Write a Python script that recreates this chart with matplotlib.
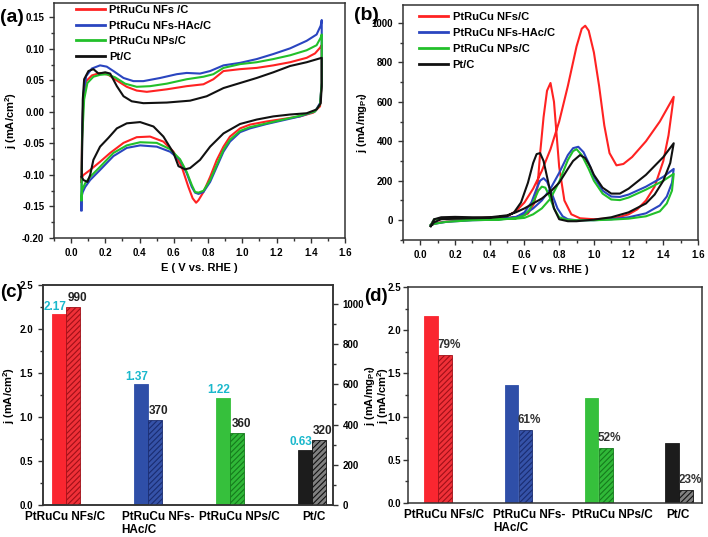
import numpy as np
import matplotlib.pyplot as plt
from matplotlib.ticker import MultipleLocator, FormatStrFormatter

plt.rcParams['font.family'] = ['Liberation Sans', 'DejaVu Sans']
plt.rcParams['font.weight'] = 'bold'
plt.rcParams['axes.labelweight'] = 'bold'
plt.rcParams['mathtext.fontset'] = 'custom'
plt.rcParams['mathtext.bf'] = 'Liberation Sans:bold'
plt.rcParams['mathtext.rm'] = 'Liberation Sans:bold'
plt.rcParams['mathtext.default'] = 'bf'
plt.rcParams['hatch.linewidth'] = 0.8

RED = '#ff2222'
BLUE = '#2a45c0'
GREEN = '#22c02a'
BLACK = '#111111'

# ---- (a) CV in H2SO4: closed loops (anodic then cathodic) ----
e_nfs_a = [0.060, 0.064, 0.072, 0.088, 0.121, 0.169, 0.218, 0.267, 0.325, 0.383, 0.442, 0.559,
           0.675, 0.773, 0.831, 0.890, 0.987, 1.084, 1.181, 1.279, 1.376, 1.425, 1.454, 1.464,
           1.464, 1.454, 1.415, 1.337, 1.240, 1.143, 1.045, 0.987, 0.928, 0.890, 0.851, 0.812,
           0.773, 0.744, 0.730, 0.710, 0.685, 0.646, 0.598, 0.539, 0.461, 0.383, 0.306, 0.228,
           0.169, 0.111, 0.072, 0.060, 0.060]
j_nfs_a = [-0.111, -0.034, 0.025, 0.049, 0.058, 0.062, 0.059, 0.050, 0.040, 0.034, 0.032, 0.036,
           0.041, 0.044, 0.052, 0.065, 0.068, 0.070, 0.074, 0.079, 0.086, 0.093, 0.102, 0.106,
           0.046, 0.009, -0.001, -0.007, -0.011, -0.015, -0.020, -0.026, -0.039, -0.055, -0.076, -0.103,
           -0.127, -0.140, -0.144, -0.137, -0.119, -0.087, -0.063, -0.047, -0.039, -0.040, -0.049, -0.065,
           -0.079, -0.092, -0.100, -0.105, -0.111]

e_hac_a = [0.060, 0.064, 0.072, 0.088, 0.121, 0.169, 0.208, 0.247, 0.306, 0.364, 0.422, 0.520,
           0.617, 0.675, 0.753, 0.812, 0.890, 0.987, 1.084, 1.181, 1.279, 1.376, 1.434, 1.458, 1.464,
           1.464, 1.454, 1.425, 1.337, 1.240, 1.143, 1.045, 0.987, 0.928, 0.890, 0.851, 0.812,
           0.773, 0.744, 0.724, 0.705, 0.675, 0.636, 0.578, 0.500, 0.403, 0.325, 0.247, 0.169,
           0.111, 0.082, 0.068, 0.060, 0.060]
j_hac_a = [-0.156, -0.034, 0.030, 0.057, 0.069, 0.074, 0.072, 0.065, 0.054, 0.049, 0.049, 0.054,
           0.060, 0.062, 0.061, 0.065, 0.074, 0.078, 0.084, 0.092, 0.101, 0.113, 0.123, 0.137, 0.146,
           0.046, 0.014, 0.001, -0.007, -0.013, -0.019, -0.026, -0.032, -0.047, -0.063, -0.087, -0.111,
           -0.127, -0.130, -0.128, -0.119, -0.097, -0.076, -0.063, -0.055, -0.053, -0.057, -0.070, -0.092,
           -0.108, -0.119, -0.127, -0.135, -0.156]

e_nps_a = [0.060, 0.064, 0.076, 0.095, 0.130, 0.169, 0.208, 0.257, 0.315, 0.383, 0.461, 0.559,
           0.675, 0.773, 0.831, 0.890, 0.987, 1.084, 1.181, 1.279, 1.376, 1.434, 1.458, 1.464,
           1.464, 1.454, 1.425, 1.337, 1.240, 1.143, 1.045, 0.987, 0.928, 0.890, 0.851, 0.812,
           0.773, 0.744, 0.724, 0.705, 0.675, 0.636, 0.578, 0.500, 0.403, 0.325, 0.247, 0.169,
           0.111, 0.082, 0.064, 0.060]
j_nps_a = [-0.140, -0.044, 0.020, 0.046, 0.056, 0.059, 0.060, 0.055, 0.045, 0.040, 0.041, 0.045,
           0.052, 0.056, 0.060, 0.070, 0.076, 0.079, 0.084, 0.090, 0.098, 0.106, 0.118, 0.123,
           0.046, 0.012, 0.001, -0.006, -0.012, -0.018, -0.024, -0.030, -0.044, -0.060, -0.084, -0.108,
           -0.125, -0.128, -0.127, -0.116, -0.095, -0.075, -0.059, -0.049, -0.048, -0.053, -0.065, -0.087,
           -0.103, -0.113, -0.124, -0.140]

e_pt_a = [0.062, 0.068, 0.076, 0.101, 0.130, 0.160, 0.199, 0.228, 0.267, 0.306, 0.354, 0.422,
          0.559, 0.695, 0.792, 0.890, 0.987, 1.084, 1.181, 1.279, 1.376, 1.464,
          1.464, 1.458, 1.434, 1.376, 1.279, 1.181, 1.084, 0.987, 0.890, 0.812, 0.753, 0.695,
          0.666, 0.627, 0.598, 0.539, 0.481, 0.403, 0.325, 0.267, 0.218, 0.169, 0.130, 0.111,
          0.095, 0.072, 0.062]
j_pt_a = [-0.103, 0.020, 0.052, 0.065, 0.068, 0.061, 0.063, 0.061, 0.041, 0.025, 0.017, 0.014,
          0.015, 0.018, 0.025, 0.038, 0.046, 0.054, 0.063, 0.073, 0.079, 0.086,
          0.041, 0.014, 0.004, -0.002, -0.004, -0.007, -0.012, -0.019, -0.034, -0.055, -0.076, -0.089,
          -0.091, -0.086, -0.065, -0.039, -0.023, -0.016, -0.018, -0.026, -0.041, -0.055, -0.076, -0.100,
          -0.111, -0.108, -0.103]

# ---- (b) methanol oxidation: forward + backward sweeps ----
e_nfs_b = [0.06, 0.08, 0.15, 0.25, 0.35, 0.45, 0.50, 0.55, 0.60, 0.65, 0.70, 0.75, 0.80, 0.85,
           0.90, 0.93, 0.95, 0.97, 1.00, 1.03, 1.06, 1.09, 1.13, 1.17, 1.22, 1.30, 1.38, 1.46,
           1.43, 1.40, 1.35, 1.30, 1.25, 1.20, 1.15, 1.10, 1.00, 0.92, 0.87, 0.83, 0.80, 0.77,
           0.75, 0.73, 0.71, 0.69, 0.675, 0.655, 0.62, 0.58, 0.50, 0.40, 0.30, 0.20, 0.12, 0.08, 0.06]
j_nfs_b = [-25, 5, 8, 10, 12, 15, 22, 45, 90, 160, 250, 360, 500, 680,
           880, 970, 985, 960, 850, 680, 480, 340, 278, 285, 320, 400, 500, 625,
           430, 300, 170, 100, 55, 30, 17, 10, 5, 10, 30, 100, 270, 600,
           695, 656, 522, 337, 168, 84, 34, 20, 12, 8, 3, -3, -10, -18, -25]

e_hac_b = [0.06, 0.08, 0.15, 0.30, 0.45, 0.55, 0.60, 0.65, 0.70, 0.75, 0.80, 0.85, 0.88, 0.91,
           0.94, 0.97, 1.00, 1.05, 1.10, 1.15, 1.20, 1.30, 1.40, 1.46,
           1.45, 1.42, 1.38, 1.30, 1.20, 1.10, 1.00, 0.90, 0.85, 0.82, 0.79, 0.76, 0.73, 0.71,
           0.69, 0.67, 0.64, 0.60, 0.55, 0.45, 0.30, 0.15, 0.08, 0.06]
j_hac_b = [-25, 5, 10, 8, 8, 15, 30, 60, 100, 160, 240, 330, 365, 372,
           345, 290, 220, 150, 120, 118, 130, 170, 220, 260,
           190, 120, 75, 35, 15, 5, 0, 0, 5, 20, 60, 130, 195, 213,
           200, 160, 90, 40, 15, 3, 0, -8, -18, -25]

e_nps_b = [0.06, 0.08, 0.15, 0.30, 0.45, 0.55, 0.60, 0.65, 0.70, 0.75, 0.80, 0.85, 0.88, 0.90,
           0.93, 0.97, 1.00, 1.05, 1.10, 1.15, 1.20, 1.30, 1.40, 1.46,
           1.45, 1.42, 1.38, 1.30, 1.20, 1.10, 1.00, 0.90, 0.84, 0.80, 0.77, 0.74, 0.72, 0.70,
           0.68, 0.66, 0.63, 0.60, 0.55, 0.45, 0.30, 0.15, 0.08, 0.06]
j_nps_b = [-25, 5, 10, 8, 5, 8, 12, 30, 60, 110, 195, 305, 350, 360,
           330, 260, 200, 135, 105, 102, 115, 155, 200, 235,
           150, 85, 45, 20, 8, 3, 0, 0, 3, 15, 60, 130, 165, 170,
           150, 110, 55, 25, 10, 3, 0, -8, -18, -25]

e_pt_b = [0.06, 0.08, 0.12, 0.20, 0.30, 0.40, 0.50, 0.55, 0.60, 0.65, 0.70, 0.75, 0.80, 0.85,
          0.88, 0.92, 0.95, 0.98, 1.00, 1.05, 1.10, 1.15, 1.20, 1.30, 1.40, 1.46,
          1.44, 1.40, 1.35, 1.30, 1.20, 1.10, 1.00, 0.90, 0.85, 0.80, 0.77, 0.74, 0.71, 0.69,
          0.67, 0.65, 0.62, 0.58, 0.54, 0.50, 0.40, 0.30, 0.20, 0.12, 0.08, 0.06]
j_pt_b = [-30, 5, 15, 17, 15, 15, 25, 40, 60, 85, 110, 145, 190, 260,
          300, 330, 315, 270, 230, 165, 135, 135, 160, 230, 320, 390,
          290, 200, 130, 85, 40, 15, 3, -5, -5, 5, 60, 180, 300, 340,
          335, 290, 190, 90, 40, 20, 12, 10, 8, 5, -10, -30]

labels_a = ["PtRuCu NFs /C", "PtRuCu NFs-HAc/C", "PtRuCu NPs/C", "Pt/C"]
labels_b = ["PtRuCu NFs/C", "PtRuCu NFs-HAc/C", "PtRuCu NPs/C", "Pt/C"]

# ---- (c), (d) bars ----
cats = ["PtRuCu NFs/C", "PtRuCu NFs-\nHAc/C", "PtRuCu NPs/C", "Pt/C"]
spec_act = [2.17, 1.37, 1.22, 0.63]
spec_txt = ["2.17", "1.37", "1.22", "0.63"]
mass_act = [985, 422, 360, 325]
mass_txt = ["990", "370", "360", "320"]
before = [2.17, 1.37, 1.22, 0.69]
after = [1.71, 0.84, 0.64, 0.15]
retain_txt = ["79%", "61%", "52%", "23%"]

solid_cols = ['#fa2630', '#2f4fa8', '#36c03c', '#1c1c1c']
hatch_face = ['#f03038', '#3552a8', '#30b838', '#808080']
hatch_edge = ['#a01018', '#1a2c70', '#157a1c', '#111111']

fig = plt.figure(figsize=(7.08, 5.37), dpi=100)


def style(ax, fs=7):
    for s in ax.spines.values():
        s.set_linewidth(1.1)
        s.set_color('#333333')
    ax.tick_params(which='both', direction='out', labelsize=fs, width=1.0, color='#333333')
    ax.tick_params(which='major', length=3.5)
    ax.tick_params(which='minor', length=2)


curve_cols = [RED, BLUE, GREEN, BLACK]

# (a)
ax_a = fig.add_axes([0.0763, 0.5568, 0.411, 0.4376])
for e, j, c, lb in zip([e_nfs_a, e_hac_a, e_nps_a, e_pt_a], [j_nfs_a, j_hac_a, j_nps_a, j_pt_a],
                       curve_cols, labels_a):
    ax_a.plot(e, j, color=c, lw=1.5, label=lb)
ax_a.set_xlim(-0.1, 1.6)
ax_a.set_ylim(-0.2, 0.173)
ax_a.xaxis.set_major_locator(MultipleLocator(0.2))
ax_a.xaxis.set_minor_locator(MultipleLocator(0.1))
ax_a.yaxis.set_major_locator(MultipleLocator(0.05))
ax_a.yaxis.set_minor_locator(MultipleLocator(0.025))
ax_a.xaxis.set_major_formatter(FormatStrFormatter('%.1f'))
ax_a.yaxis.set_major_formatter(FormatStrFormatter('%.2f'))
style(ax_a)
ax_a.set_xlabel("E ( V vs. RHE )", fontsize=8)
ax_a.set_ylabel(r"j (mA/cm$^{2}$)", fontsize=8, labelpad=2)
leg = ax_a.legend(loc='upper left', bbox_to_anchor=(0.06, 1.01), frameon=False, fontsize=8,
                  handlelength=2.6, labelspacing=0.5, handletextpad=0.4, borderaxespad=0)
for ln in leg.get_lines():
    ln.set_linewidth(2)
fig.text(0.0, 0.967, "(a)", fontsize=14, fontweight='bold', va='center')

# (b)
ax_b = fig.add_axes([0.5692, 0.5531, 0.4167, 0.4376])
for e, j, c, lb in zip([e_nfs_b, e_hac_b, e_nps_b, e_pt_b], [j_nfs_b, j_hac_b, j_nps_b, j_pt_b],
                       curve_cols, labels_b):
    ax_b.plot(e, j, color=c, lw=1.5, label=lb)
ax_b.set_xlim(-0.1, 1.6)
ax_b.set_ylim(-100, 1090)
ax_b.set_yticks([0, 200, 400, 600, 800, 1000])
ax_b.xaxis.set_major_locator(MultipleLocator(0.2))
ax_b.xaxis.set_minor_locator(MultipleLocator(0.1))
ax_b.yaxis.set_minor_locator(MultipleLocator(100))
ax_b.xaxis.set_major_formatter(FormatStrFormatter('%.1f'))
style(ax_b)
ax_b.set_xlabel("E ( V vs. RHE )", fontsize=8)
ax_b.set_ylabel(r"j (mA/mg$_{Pt}$)", fontsize=8, labelpad=2)
leg = ax_b.legend(loc='upper left', bbox_to_anchor=(0.04, 0.99), frameon=False, fontsize=8,
                  handlelength=2.6, labelspacing=0.55, handletextpad=0.4, borderaxespad=0)
for ln in leg.get_lines():
    ln.set_linewidth(2)
fig.text(0.5, 0.972, "(b)", fontsize=14, fontweight='bold', va='center')

# (c)
w = 0.168
pos = np.arange(1, 5)
ax_c = fig.add_axes([0.0607, 0.0596, 0.4096, 0.4097])
ax_c2 = ax_c.twinx()
ax_c.bar(pos - w / 2 - 0.005, spec_act, w, color=solid_cols, edgecolor=solid_cols, lw=0.6)
ax_c2.bar(pos + w / 2 + 0.005, mass_act, w, color=hatch_face, edgecolor=hatch_edge,
          hatch='//////', lw=0.6)
for x, v, t in zip(pos - w / 2, spec_act, spec_txt):
    ax_c.annotate(t, (x, v), xytext=(-3, 1), textcoords='offset points', ha='center', va='bottom',
                  fontsize=8.5, color='#1ab8cc', fontweight='bold')
for x, v, t in zip(pos + w / 2, mass_act, mass_txt):
    ax_c2.annotate(t, (x, v), xytext=(3, 2), textcoords='offset points', ha='center', va='bottom',
                   fontsize=8.5, color='#222222', fontweight='bold')
ax_c.set_xlim(0.72, 4.256)
ax_c.set_ylim(0, 2.5)
ax_c2.set_ylim(0, 1094)
ax_c.yaxis.set_major_locator(MultipleLocator(0.5))
ax_c.yaxis.set_minor_locator(MultipleLocator(0.25))
ax_c.yaxis.set_major_formatter(FormatStrFormatter('%.1f'))
ax_c2.yaxis.set_major_locator(MultipleLocator(200))
ax_c2.yaxis.set_minor_locator(MultipleLocator(100))
style(ax_c)
style(ax_c2)
ax_c.set_xticks([0.99, 2.12, 3.11, 4.02])
ax_c.set_xticklabels(cats, fontsize=8.5, multialignment='left')
ax_c.tick_params(axis='x', length=0, pad=4)
ax_c.set_ylabel(r"j (mA/cm$^{2}$)", fontsize=8, labelpad=2)
ax_c2.set_ylabel(r"j (mA/mg$_{Pt}$)", fontsize=8)
ax_c2.yaxis.set_label_coords(1.104, 0.5)
fig.text(0.0, 0.455, "(c)", fontsize=13.5, fontweight='bold', va='center')

# (d)
ax_d = fig.add_axes([0.5763, 0.0633, 0.4153, 0.4022])
ax_d.bar(pos - w / 2 - 0.005, before, w, color=solid_cols, edgecolor=solid_cols, lw=0.6)
ax_d.bar(pos + w / 2 + 0.005, after, w, color=hatch_face, edgecolor=hatch_edge,
         hatch='//////', lw=0.6)
for x, v, t in zip(pos + w / 2, after, retain_txt):
    ax_d.annotate(t, (x, v), xytext=(3, 3), textcoords='offset points', ha='center', va='bottom',
                  fontsize=8.5, color='#333333', fontweight='bold')
ax_d.set_xlim(0.626, 4.286)
ax_d.set_ylim(0, 2.5)
ax_d.yaxis.set_major_locator(MultipleLocator(0.5))
ax_d.yaxis.set_minor_locator(MultipleLocator(0.25))
ax_d.yaxis.set_major_formatter(FormatStrFormatter('%.1f'))
style(ax_d)
ax_d.tick_params(axis='y', pad=1.5)
ax_d.set_xticks([1.07, 2.14, 3.17, 3.99])
ax_d.set_xticklabels(cats, fontsize=8.5, multialignment='left')
ax_d.tick_params(axis='x', length=0, pad=4)
ax_d.set_ylabel(r"j (mA/cm$^{2}$)", fontsize=8)
ax_d.yaxis.set_label_coords(-0.058, 0.5)
fig.text(0.515, 0.447, "(d)", fontsize=13.5, fontweight='bold', va='center')

fig.savefig("out.png", dpi=100)
